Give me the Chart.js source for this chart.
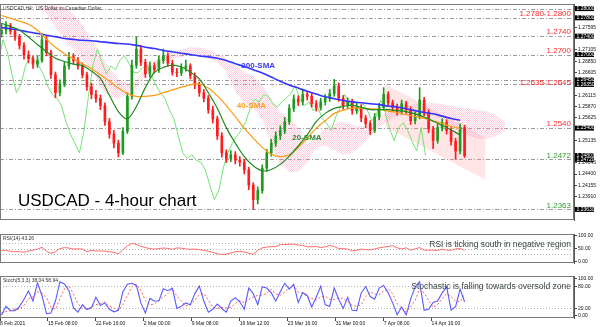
<!DOCTYPE html>
<html>
<head>
<meta charset="utf-8">
<script src="https://cdn.jsdelivr.net/npm/chart.js@4/dist/chart.umd.min.js"></script>
<style>
  body { margin: 0; background: #fff; }
  #wrap { position: relative; width: 600px; height: 327px; overflow: hidden; }
  canvas { position: absolute; left: 0; }
</style>
</head>
<body>
<div id="wrap">
  <canvas id="priceChart" width="600" height="230" style="top:0"></canvas>
  <canvas id="rsiChart" width="600" height="42" style="top:230px"></canvas>
  <canvas id="stochChart" width="600" height="55" style="top:272px"></canvas>
</div>
<script>
const FONT = "'Liberation Sans', Arial, sans-serif";

// 12h candles (3 x 4h bars each) from 8 Feb 2021
const firstOpen = 1.2745;
const closes = [1.2753,1.2763,1.2751,1.2738,1.2720,1.2699,1.2691,1.2679,1.2687,1.2732,
  1.2704,1.2656,1.2617,1.2636,1.2675,1.2695,1.2687,1.2675,1.2656,1.2630,
  1.2613,1.2605,1.2589,1.2554,1.2527,1.2507,1.2486,1.2533,1.2609,1.2677,
  1.2712,1.2683,1.2658,1.2675,1.2667,1.2687,1.2697,1.2681,1.2662,1.2660,
  1.2671,1.2675,1.2654,1.2634,1.2617,1.2605,1.2580,1.2560,1.2523,1.2486,
  1.2474,1.2482,1.2470,1.2466,1.2449,1.2416,1.2384,1.2404,1.2453,1.2486,
  1.2507,1.2523,1.2535,1.2554,1.2583,1.2603,1.2597,1.2613,1.2609,1.2593,
  1.2585,1.2597,1.2605,1.2615,1.2632,1.2605,1.2589,1.2597,1.2578,1.2585,
  1.2562,1.2550,1.2535,1.2564,1.2585,1.2613,1.2595,1.2585,1.2576,1.2593,
  1.2580,1.2556,1.2566,1.2601,1.2574,1.2538,1.2513,1.2541,1.2552,1.2535,
  1.2511,1.2490,1.2541,1.2480];
const highs = [1.2768,1.2772,1.2768,1.2757,1.2744,1.2726,1.2708,1.2697,1.2696,1.2745,
  1.2738,1.2710,1.2662,1.2645,1.2684,1.2705,1.2702,1.2694,1.2682,1.2662,
  1.2638,1.2622,1.2612,1.2595,1.2561,1.2535,1.2514,1.2541,1.2617,1.2688,
  1.2738,1.2720,1.2690,1.2684,1.2682,1.2697,1.2712,1.2704,1.2688,1.2670,
  1.2680,1.2688,1.2680,1.2660,1.2640,1.2624,1.2611,1.2588,1.2566,1.2530,
  1.2493,1.2491,1.2489,1.2478,1.2472,1.2455,1.2421,1.2412,1.2460,1.2494,
  1.2516,1.2532,1.2545,1.2563,1.2591,1.2612,1.2610,1.2622,1.2620,1.2615,
  1.2600,1.2605,1.2613,1.2624,1.2646,1.2638,1.2611,1.2606,1.2603,1.2594,
  1.2591,1.2568,1.2556,1.2572,1.2594,1.2628,1.2619,1.2601,1.2592,1.2601,
  1.2598,1.2586,1.2575,1.2628,1.2607,1.2580,1.2544,1.2549,1.2560,1.2558,
  1.2541,1.2518,1.2549,1.2546];
const lows = [1.2738,1.2745,1.2744,1.2731,1.2712,1.2690,1.2682,1.2670,1.2672,1.2683,
  1.2697,1.2648,1.2606,1.2610,1.2630,1.2668,1.2679,1.2668,1.2649,1.2622,
  1.2604,1.2596,1.2580,1.2546,1.2518,1.2497,1.2477,1.2482,1.2528,1.2603,
  1.2670,1.2676,1.2650,1.2651,1.2660,1.2661,1.2681,1.2674,1.2655,1.2652,
  1.2654,1.2664,1.2647,1.2626,1.2609,1.2597,1.2572,1.2551,1.2515,1.2477,
  1.2465,1.2467,1.2462,1.2457,1.2440,1.2406,1.2363,1.2375,1.2398,1.2446,
  1.2479,1.2500,1.2515,1.2528,1.2548,1.2576,1.2589,1.2590,1.2601,1.2586,
  1.2577,1.2579,1.2590,1.2598,1.2609,1.2598,1.2581,1.2582,1.2570,1.2571,
  1.2554,1.2541,1.2526,1.2530,1.2558,1.2579,1.2588,1.2577,1.2568,1.2570,
  1.2572,1.2548,1.2549,1.2560,1.2567,1.2530,1.2495,1.2507,1.2534,1.2527,
  1.2503,1.2472,1.2484,1.2476];

// moving averages, one value every second candle
const sma200 = [1.2759,1.2756,1.2753,1.2749,1.2746,1.2742,1.2739,1.2735,1.2733,1.2731,
  1.2730,1.2728,1.2726,1.2724,1.2723,1.2720,1.2716,1.2713,1.2709,1.2706,
  1.2703,1.2700,1.2697,1.2695,1.2692,1.2687,1.2680,1.2674,1.2667,1.2660,
  1.2651,1.2642,1.2634,1.2627,1.2620,1.2614,1.2608,1.2604,1.2600,1.2597,
  1.2595,1.2593,1.2591,1.2588,1.2586,1.2582,1.2578,1.2574,1.2571,1.2566,
  1.2561,1.2557];
const sma40 = [1.2785,1.2779,1.2773,1.2766,1.2753,1.2733,1.2716,1.2702,1.2691,1.2680,
  1.2669,1.2656,1.2642,1.2627,1.2615,1.2609,1.2609,1.2611,1.2617,1.2623,
  1.2629,1.2634,1.2636,1.2627,1.2610,1.2589,1.2565,1.2540,1.2518,1.2498,
  1.2483,1.2478,1.2482,1.2498,1.2518,1.2540,1.2556,1.2572,1.2579,1.2584,
  1.2583,1.2582,1.2581,1.2577,1.2574,1.2569,1.2565,1.2561,1.2556,1.2550,
  1.2544,1.2539];
const sma20 = [1.2768,1.2761,1.2753,1.2738,1.2722,1.2706,1.2692,1.2685,1.2679,1.2676,
  1.2664,1.2648,1.2611,1.2576,1.2560,1.2587,1.2628,1.2661,1.2672,1.2677,
  1.2673,1.2662,1.2647,1.2617,1.2583,1.2541,1.2507,1.2478,1.2458,1.2447,
  1.2450,1.2461,1.2479,1.2501,1.2525,1.2554,1.2572,1.2583,1.2587,1.2590,
  1.2585,1.2580,1.2580,1.2580,1.2578,1.2576,1.2571,1.2564,1.2555,1.2546,
  1.2536,1.2525];

// ichimoku cloud edges, every second candle, running 26 bars ahead
const spanA = [1.2851,1.2851,1.2851,1.2841,1.2831,1.2820,1.2810,1.2804,1.2789,1.2765,
  1.2732,1.2703,1.2670,1.2646,1.2636,1.2642,1.2675,1.2687,1.2697,1.2707,
  1.2711,1.2716,1.2716,1.2711,1.2703,1.2691,1.2675,1.2662,1.2654,1.2634,
  1.2605,1.2574,1.2560,1.2543,1.2506,1.2519,1.2539,1.2549,1.2553,1.2547,
  1.2543,1.2543,1.2564,1.2576,1.2584,1.2588,1.2592,1.2595,1.2595,1.2592,
  1.2588,1.2584,1.2582,1.2580,1.2576,1.2568,1.2553];
const spanB = [1.2831,1.2831,1.2826,1.2816,1.2804,1.2789,1.2759,1.2732,1.2711,1.2691,
  1.2670,1.2629,1.2609,1.2605,1.2613,1.2625,1.2658,1.2670,1.2683,1.2691,
  1.2695,1.2699,1.2697,1.2691,1.2683,1.2662,1.2621,1.2597,1.2584,1.2560,
  1.2502,1.2461,1.2445,1.2445,1.2465,1.2498,1.2502,1.2492,1.2482,1.2486,
  1.2502,1.2523,1.2543,1.2555,1.2568,1.2568,1.2566,1.2568,1.2568,1.2560,
  1.2547,1.2531,1.2523,1.2517,1.2517,1.2523,1.2535];

// descending channel (bar index, price)
const channelBars = [257, 324];
const channelTop = [1.2636, 1.2519];
const channelBottom = [1.2543, 1.2427];

const rsi = [41.6,44,39,38,38.5,36,41,44,48,55,
  40,32,38,50,54,52,48,49,48,38,
  43,41,41,40,37.5,35.5,30,45,60,70,
  66,59,54,50,48,50.5,52,51,47.5,52.5,
  51.5,49,47,48,46,43.5,40,35.5,30,27,
  28.5,33,38,39.5,37,32,28.5,43,53,56,
  57.5,57.5,65,66,66,68,63,63,57,57,
  58,54,57,62,58,50,50,48,41,44,
  48,46,45,48.5,53,55.5,58.5,61,53,48.5,
  53,44,49,54,44,44.5,44,43,48,44,
  43.5,49,50,43.3];
const stochK = [2,26,14,14,25,45,67,40,89,55,
  6,8,40,92,86,68,22,10,30,17,
  22,50,28,35,18,11,15,65,85,88,
  82,35,8,47,40,40,73,68,75,20,
  26,35,30,60,80,40,10,18,32,20,
  10,40,49,38,18,75,60,30,78,75,
  62,40,65,88,72,85,36,63,55,24,
  50,80,30,26,75,45,20,50,15,14,
  62,79,52,45,75,82,62,35,3,24,
  3,45,78,92,15,18,36,40,62,78,
  16,25,72,38];
const stochD = [8,12,14,18,18,28,46,51,65,61,
  50,23,18,47,73,82,59,33,21,19,
  23,30,33,38,27,21,15,30,55,79,
  85,68,42,30,32,42,51,60,72,54,
  40,27,30,42,57,60,43,23,20,23,
  21,23,33,42,35,44,51,55,56,61,
  72,59,56,64,75,82,64,61,51,47,
  43,51,53,45,44,49,47,38,28,26,
  30,52,64,59,57,67,73,60,33,21,
  10,24,42,72,62,42,23,31,46,60,
  52,40,38,59];

const levels = [1.2800, 1.2780, 1.2740, 1.2700, 1.2645, 1.2635, 1.2540, 1.2472, 1.2363];
const levelTexts = ["1.2780-1.2800", "1.2740", "1.2700", "1.2635-1.2645", "1.2540", "1.2472", "1.2363"];
const levelTextPrices = [1.2790, 1.2740, 1.2700, 1.2640, 1.2540, 1.2472, 1.2363];
const levelTextColors = ["#ff2a2a", "#ff2a2a", "#ff2a2a", "#ff2a2a", "#ff2a2a", "#2f9f2f", "#2f9f2f"];
const priceBoxes = [1.28000, 1.27800, 1.27400, 1.27000, 1.26450, 1.26350, 1.25400, 1.24803, 1.24720, 1.23630];
const priceTicks = [1.27595, 1.27105, 1.26850, 1.26605, 1.26115, 1.25870, 1.25625, 1.25135, 1.24645, 1.24400, 1.24155, 1.23910];
const dateLabels = ["8 Feb 2021", "15 Feb 08:00", "22 Feb 16:00", "2 Mar 00:00", "9 Mar 08:00",
  "16 Mar 12:00", "23 Mar 16:00", "31 Mar 00:00", "7 Apr 08:00", "14 Apr 16:00"];
const smaNotes = [
  { text: "200-SMA", bar: 161, price: 1.2675, color: "#3a3aff" },
  { text: "40-SMA", bar: 158, price: 1.2588, color: "#ff9a1a" },
  { text: "20-SMA", bar: 195, price: 1.2519, color: "#2e8b2e" }
];
const rsiLevels = [70, 50, 30];
const stochLevels = [80, 20];

const BARS_PER_CANDLE = 3, LABEL_STEP = 32, X_MAX = 383, CHIKOU_SHIFT = 26;
const GREEN = "#1f9a1f", RED = "#ff1c1c";

const opens = closes.map((c, i) => i === 0 ? firstOpen : closes[i - 1]);
const candleX = i => BARS_PER_CANDLE * i + 1;
const sampleX = k => 2 * BARS_PER_CANDLE * k + 1;
const candleColor = c => closes[c.dataIndex] >= opens[c.dataIndex] ? GREEN : RED;

// dotted pink fill for the cloud
const tile = document.createElement("canvas");
tile.width = 2; tile.height = 2;
const tctx = tile.getContext("2d");
tctx.fillStyle = "rgba(255,150,185,0.5)";
tctx.fillRect(0, 0, 1, 1); tctx.fillRect(1, 1, 1, 1);
const cloudPattern = tctx.createPattern(tile, "repeat");

Chart.defaults.font.family = FONT;
Chart.defaults.animation = false;

const xScale = show => ({
  type: "linear", min: 0, max: X_MAX, display: show, offset: false,
  grid: { drawOnChartArea: false, tickLength: 3, color: "#444" },
  border: { display: false },
  afterBuildTicks: s => { s.ticks = dateLabels.map((_, i) => ({ value: i * LABEL_STEP })); },
  afterFit: s => { s.height = 9; },
  ticks: { autoSkip: false, maxRotation: 0, align: "start", padding: 0,
    font: { size: 5 }, color: "#111", callback: (v, i) => dateLabels[i] }
});

const rightAxis = (min, max, ticks, fmt) => ({
  position: "right", min, max,
  afterBuildTicks: s => { s.ticks = ticks.map(v => ({ value: v })); },
  afterFit: s => { s.width = 26; },
  grid: { drawOnChartArea: false, tickLength: 3, color: "#444" },
  border: { color: "#555" },
  ticks: { font: { size: 5 }, color: "#111", padding: 1, callback: fmt }
});

function frame(ctx, a) {
  ctx.strokeStyle = "#7a7a7a"; ctx.lineWidth = 1; ctx.setLineDash([]);
  ctx.strokeRect(a.left + 0.5, a.top + 0.5, a.width - 1, a.height - 1);
}

const priceOverlay = {
  id: "priceOverlay",
  beforeDatasetsDraw(chart) {
    const { ctx, chartArea: a, scales: { y } } = chart;
    ctx.save();
    ctx.strokeStyle = "#9c9c9c"; ctx.lineWidth = 1; ctx.setLineDash([4, 2, 1, 2]);
    levels.forEach(v => {
      const py = Math.round(y.getPixelForValue(v)) + 0.5;
      ctx.beginPath(); ctx.moveTo(a.left, py); ctx.lineTo(a.right, py); ctx.stroke();
    });
    ctx.restore();
  },
  afterDraw(chart) {
    const { ctx, chartArea: a, scales: { x, y } } = chart;
    ctx.save();
    frame(ctx, a);
    // key levels
    ctx.font = `8px ${FONT}`; ctx.textAlign = "right";
    levelTexts.forEach((t, i) => {
      const range = t.includes("-");
      ctx.fillStyle = levelTextColors[i];
      ctx.textBaseline = range ? "middle" : "bottom";
      ctx.fillText(t, a.right - 3, y.getPixelForValue(levelTextPrices[i]) + (range ? 1 : 0));
    });
    // axis price boxes
    ctx.font = `5px ${FONT}`; ctx.textAlign = "left"; ctx.textBaseline = "middle";
    priceBoxes.forEach(v => {
      const py = y.getPixelForValue(v);
      ctx.fillStyle = "#000"; ctx.fillRect(a.right + 1, py - 2.5, 19, 5);
      ctx.fillStyle = "#fff"; ctx.fillText(v.toFixed(5), a.right + 2.5, py);
    });
    // indicator labels
    ctx.font = `bold 8px ${FONT}`; ctx.textBaseline = "middle";
    smaNotes.forEach(n => {
      ctx.fillStyle = n.color;
      ctx.fillText(n.text, x.getPixelForValue(n.bar), y.getPixelForValue(n.price));
    });
    ctx.fillStyle = "#333"; ctx.font = `5px ${FONT}`; ctx.textBaseline = "top";
    ctx.fillText("USDCAD,H4:  US Dollar vs Canadian Dollar", a.left + 3, a.top + 2);
    ctx.fillStyle = "#000"; ctx.font = `17px ${FONT}`; ctx.textBaseline = "middle";
    ctx.fillText("USDCAD - 4-hour chart", a.left + 18, a.top + 197);
    ctx.restore();
  }
};

const panelOverlay = (title, note, lines) => ({
  id: "panelOverlay",
  beforeDatasetsDraw(chart) {
    const { ctx, chartArea: a, scales: { y } } = chart;
    ctx.save();
    ctx.strokeStyle = "#b5b5b5"; ctx.lineWidth = 1; ctx.setLineDash([1, 2]);
    lines.forEach(v => {
      const py = Math.round(y.getPixelForValue(v)) + 0.5;
      ctx.beginPath(); ctx.moveTo(a.left, py); ctx.lineTo(a.right, py); ctx.stroke();
    });
    ctx.restore();
  },
  afterDraw(chart) {
    const { ctx, chartArea: a } = chart;
    ctx.save();
    frame(ctx, a);
    ctx.fillStyle = "#333"; ctx.font = `5px ${FONT}`; ctx.textAlign = "left"; ctx.textBaseline = "top";
    ctx.fillText(title, a.left + 3, a.top + 2);
    ctx.fillStyle = "#3a4444"; ctx.font = `8.5px ${FONT}`; ctx.textAlign = "right"; ctx.textBaseline = "middle";
    ctx.fillText(note, a.right - 3, a.top + 11);
    ctx.restore();
  }
});

const commonOptions = {
  responsive: false, devicePixelRatio: 1,
  layout: { padding: 0, autoPadding: false },
  plugins: { legend: { display: false }, tooltip: { enabled: false } },
  elements: { point: { radius: 0 } }
};

new Chart(document.getElementById("priceChart"), {
  type: "line",
  data: {
    datasets: [
      { data: channelBars.map((b, i) => ({ x: b, y: channelTop[i] })), borderColor: "transparent", order: 20 },
      { data: channelBars.map((b, i) => ({ x: b, y: channelBottom[i] })), borderColor: "transparent",
        fill: "-1", backgroundColor: "rgba(255,150,150,0.25)", order: 20 },
      { data: spanA.map((v, k) => ({ x: sampleX(k), y: v })), borderColor: "transparent", order: 19 },
      { data: spanB.map((v, k) => ({ x: sampleX(k), y: v })), borderColor: "transparent",
        fill: "-1", backgroundColor: cloudPattern, order: 19 },
      { data: closes.map((c, i) => ({ x: candleX(i) - CHIKOU_SHIFT, y: c })),
        borderColor: "#74e274", borderWidth: 1, order: 15 },
      { type: "bar", data: closes.map((c, i) => ({ x: candleX(i), y: [lows[i], highs[i]] })),
        backgroundColor: candleColor, barThickness: 1, grouped: false, order: 12 },
      { type: "bar", data: closes.map((c, i) => ({ x: candleX(i), y: [opens[i], c] })),
        backgroundColor: candleColor, barThickness: 2, grouped: false, order: 11 },
      { data: sma200.map((v, k) => ({ x: sampleX(k), y: v })), borderColor: "#3434ff", borderWidth: 1.6, tension: 0.3, order: 3 },
      { data: sma40.map((v, k) => ({ x: sampleX(k), y: v })), borderColor: "#ff9a10", borderWidth: 1.2, tension: 0.3, order: 2 },
      { data: sma20.map((v, k) => ({ x: sampleX(k), y: v })), borderColor: "#1e8a1e", borderWidth: 1.2, tension: 0.3, order: 1 }
    ]
  },
  options: {
    ...commonOptions,
    layout: { padding: { bottom: 1 }, autoPadding: false },
    scales: {
      x: xScale(false),
      y: rightAxis(1.2340, 1.2810, priceTicks, v => v.toFixed(5))
    }
  },
  plugins: [priceOverlay]
});

new Chart(document.getElementById("rsiChart"), {
  type: "line",
  data: {
    datasets: [
      { data: rsi.map((v, i) => ({ x: candleX(i), y: v })), borderColor: "#ff6b6b", borderWidth: 1 }
    ]
  },
  options: {
    ...commonOptions,
    scales: {
      x: xScale(false),
      y: rightAxis(-5.3, 106.1, [0, 30, 50, 70, 100], v => v.toFixed(2))
    }
  },
  plugins: [panelOverlay("RSI(14) 43.26", "RSI is ticking south in negative region", rsiLevels)]
});

new Chart(document.getElementById("stochChart"), {
  type: "line",
  data: {
    datasets: [
      { data: stochK.map((v, i) => ({ x: candleX(i), y: v })), borderColor: "#5a5aff", borderWidth: 1.1, order: 1 },
      { data: stochD.map((v, i) => ({ x: candleX(i), y: v })), borderColor: "#ff5a5a", borderWidth: 1, borderDash: [2, 2], order: 2 }
    ]
  },
  options: {
    ...commonOptions,
    scales: {
      x: xScale(true),
      y: rightAxis(-5.65, 107.4, [0, 20, 80, 100], v => v.toFixed(2))
    }
  },
  plugins: [panelOverlay("Stoch(5,3,3) 38.04 58.94", "Stochastic is falling towards oversold zone", stochLevels)]
});
</script>
</body>
</html>
